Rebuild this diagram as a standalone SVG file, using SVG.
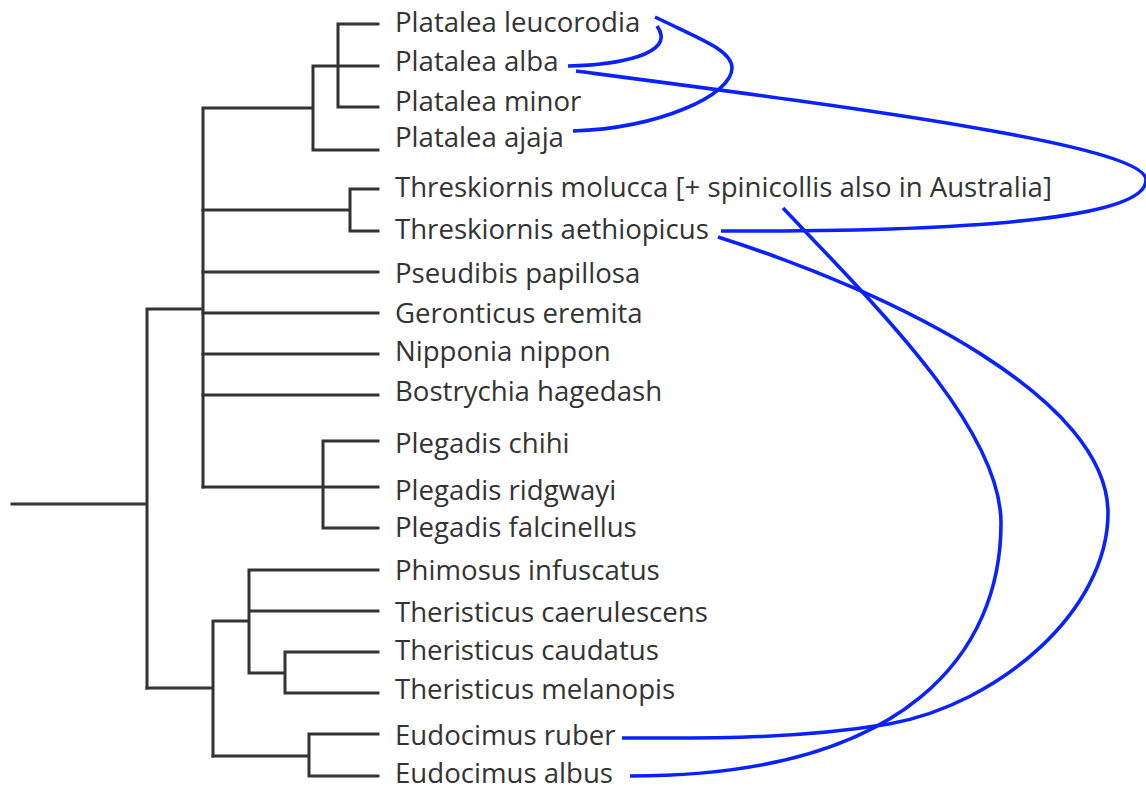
<svg xmlns="http://www.w3.org/2000/svg" width="1146" height="789" viewBox="0 0 1146 789">
<style>
.t{font-family:"Open Sans","Noto Sans",sans-serif;font-size:27.6px;fill:#333}
.br{fill:none;stroke:#333;stroke-width:3;stroke-linecap:square;stroke-linejoin:miter}
.c{fill:none;stroke:#0a22ff;stroke-width:3.6;stroke-linecap:butt}
</style>
<rect width="1146" height="789" fill="#fff"/>
<g id="tree" class="br">
<path d="M12,504H147M147,309V688M147,309H203M203,108V487M203,108H313M313,66V150M313,66H338M338,24V107M338,24H378M338,66H378M338,107H378M313,150H378"/>
<path d="M203,210H350M350,189V231M350,189H378M350,231H378"/>
<path d="M203,272H378M203,313H378M203,354H378M203,395H378"/>
<path d="M203,487H378M323,441V528M323,441H378M323,528H378"/>
<path d="M147,688H213M213,621V756M213,621H249M249,570V673M249,570H378M249,611H378M249,673H285M285,652V693M285,652H378M285,693H378"/>
<path d="M213,756H309M309,734V776M309,734H378M309,776H378"/>
</g>
<g id="n-leucorodia"><text class="t" x="395" y="32">Platalea leucorodia</text></g>
<g id="n-alba"><text class="t" x="395" y="71">Platalea alba</text></g>
<g id="n-minor"><text class="t" x="395" y="111">Platalea minor</text></g>
<g id="n-ajaja"><text class="t" x="395" y="147">Platalea ajaja</text></g>
<g id="n-molucca"><text class="t" x="395" y="197">Threskiornis molucca [+ spinicollis also in Australia]</text></g>
<g id="n-aethiopicus"><text class="t" x="395" y="239">Threskiornis aethiopicus</text></g>
<g id="n-pseudibis"><text class="t" x="395" y="283">Pseudibis papillosa</text></g>
<g id="n-geronticus"><text class="t" x="395" y="323">Geronticus eremita</text></g>
<g id="n-nipponia"><text class="t" x="395" y="361">Nipponia nippon</text></g>
<g id="n-bostrychia"><text class="t" x="395" y="401">Bostrychia hagedash</text></g>
<g id="n-chihi"><text class="t" x="395" y="453">Plegadis chihi</text></g>
<g id="n-ridgwayi"><text class="t" x="395" y="500">Plegadis ridgwayi</text></g>
<g id="n-falcinellus"><text class="t" x="395" y="537">Plegadis falcinellus</text></g>
<g id="n-phimosus"><text class="t" x="395" y="580">Phimosus infuscatus</text></g>
<g id="n-caerulescens"><text class="t" x="395" y="622">Theristicus caerulescens</text></g>
<g id="n-caudatus"><text class="t" x="395" y="660">Theristicus caudatus</text></g>
<g id="n-melanopis"><text class="t" x="395" y="699">Theristicus melanopis</text></g>
<g id="n-ruber"><text class="t" x="395" y="745">Eudocimus ruber</text></g>
<g id="n-albus"><text class="t" x="395" y="783">Eudocimus albus</text></g>
<g id="connectors" class="c">
<path d="M568,66C615,65 678,55 657,26"/>
<path d="M655,17C700,39 732,50 732,68C732,95 660,128 573,131"/>
<path d="M576,71C850,107 1146,145 1146,180C1146,215 1000,232 721,231"/>
<path d="M718,237C900,295 1108,400 1108,513C1108,610 1000,704 889,724C790,740 700,738 622,738"/>
<path d="M783,208C880,310 1001,430 1001,523C1001,650 910,776 630,776"/>
</g>
</svg>
